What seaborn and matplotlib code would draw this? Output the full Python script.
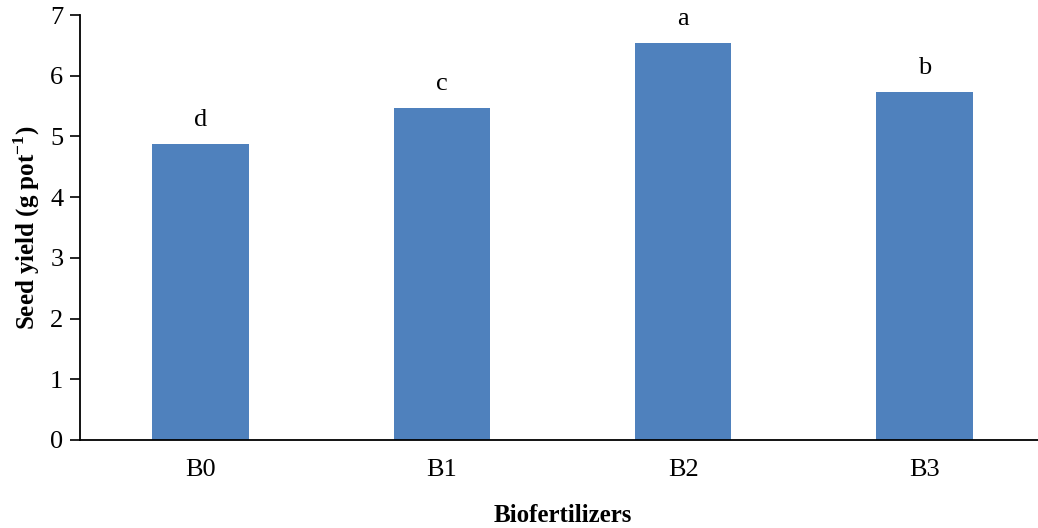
import matplotlib
matplotlib.use("Agg")
import matplotlib.pyplot as plt
import seaborn as sns
import pandas as pd

categories = ["B0", "B1", "B2", "B3"]
values = [4.88, 5.47, 6.54, 5.73]
letters = ["d", "c", "a", "b"]

sns.set_theme(style="white")
plt.rcParams['font.family'] = ['Liberation Serif', 'DejaVu Serif']
plt.rcParams['text.color'] = 'black'
plt.rcParams['axes.labelcolor'] = 'black'
plt.rcParams['xtick.color'] = 'black'
plt.rcParams['ytick.color'] = 'black'
plt.rcParams['mathtext.fontset'] = 'custom'
plt.rcParams['mathtext.bf'] = 'Liberation Serif:bold'
plt.rcParams['mathtext.rm'] = 'Liberation Serif'

df = pd.DataFrame({"cat": categories, "val": values})

fig = plt.figure(figsize=(10.38, 5.28), dpi=100)
ax = fig.add_axes([80/1038, 88/528, (1045-80)/1038, (440-15)/528])
sns.barplot(data=df, x="cat", y="val", color="#4F81BD", saturation=1, width=0.4, ax=ax)
for p in ax.patches:
    p.set_edgecolor("none")

for i, (v, l) in enumerate(zip(values, letters)):
    ax.annotate(l, (i, v), xytext=(0, 17), textcoords="offset points",
                ha="center", va="center", fontsize=19, color="black")

ax.set_ylim(0, 7)
ax.set_xlim(-0.5, 3.5)
ax.set_yticks(range(0, 8))
ax.tick_params(axis="y", which="major", left=True, length=7, width=1.2, labelsize=19, pad=5)
ax.tick_params(axis="x", bottom=False, labelsize=19, pad=8)
for s in ["top", "right"]:
    ax.spines[s].set_visible(False)
for s in ["left", "bottom"]:
    ax.spines[s].set_color("black")
    ax.spines[s].set_linewidth(1.3)
ax.set_xlabel("Biofertilizers", fontsize=18, fontweight="bold", labelpad=16)
ax.set_ylabel("Seed yield (g pot$^{\\mathbf{-1}}$)", fontsize=18, fontweight="bold", labelpad=6)

fig.savefig("out.png", dpi=100)
